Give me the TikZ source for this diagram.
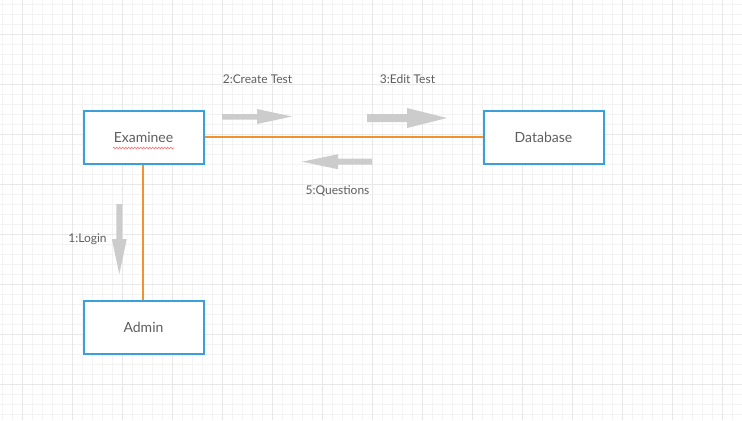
\documentclass[tikz,border=0pt]{standalone}
\usepackage{fontspec}
\setmainfont{Lato}
\usetikzlibrary{decorations.pathmorphing}
\definecolor{boxblue}{HTML}{3AA0DA}
\definecolor{linkorange}{HTML}{F2922E}
\definecolor{arrowgray}{HTML}{CCCCCC}
\definecolor{txtgray}{HTML}{5E5E5E}
\definecolor{gridminor}{HTML}{F3F3F3}
\definecolor{gridmajor}{HTML}{E8E8E8}
\tikzset{
  entity/.style={draw=boxblue, line width=2bp, fill=white, minimum width=120bp,
    minimum height=53bp, inner sep=0pt, text=txtgray, font=\fontsize{14bp}{16bp}\selectfont},
  msglabel/.style={inner sep=0pt, text=txtgray, font=\fontsize{12bp}{14bp}\selectfont},
  link/.style={draw=linkorange, line width=2bp},
  fatarrow/.style={fill=arrowgray, draw=none},
  squiggle/.style={draw=red!55, line width=0.6bp, decorate,
    decoration={zigzag, amplitude=0.9bp, segment length=3bp}}
}
\begin{document}
\begin{tikzpicture}[x=1bp,y=-1bp]
\useasboundingbox (0,0) rectangle (742,420);
\fill[white] (0,0) rectangle (742,420);
% grid
\foreach \i in {0,...,73} \draw[gridminor, line width=0.8bp] (2.7+10*\i,0) -- (2.7+10*\i,420);
\foreach \i in {0,...,41} \draw[gridminor, line width=0.8bp] (0,4+10*\i) -- (742,4+10*\i);
\foreach \i in {0,...,14} \draw[gridmajor, line width=0.8bp] (22.7+50*\i,0) -- (22.7+50*\i,420);
\foreach \i in {0,...,7} \draw[gridmajor, line width=0.8bp] (0,34+50*\i) -- (742,34+50*\i);

% nodes
\node[entity] (exam) at (143.5,137) {Examinee};
\node[entity] (db) at (543.5,137) {Database};
\node[entity] (admin) at (143.5,327) {Admin};

% connectors
\draw[link] (exam.east) -- (db.west);
\draw[link] ([xshift=-1bp]exam.south) -- ([xshift=-1bp]admin.north);

% spell-check squiggle
\draw[squiggle] (113,148) -- (174,148);

% message arrows
\fill[fatarrow] (222,114) -- (257,114) -- (257,109) -- (292,116.5) -- (257,124) -- (257,119.5) -- (222,119.5) -- cycle;
\fill[fatarrow] (367,114) -- (407,114) -- (407,108) -- (447,118) -- (407,128) -- (407,122) -- (367,122) -- cycle;
\fill[fatarrow] (372,158.7) -- (338,158.7) -- (338,154.2) -- (302,161.7) -- (338,169.2) -- (338,164.7) -- (372,164.7) -- cycle;
\fill[fatarrow] (116.3,204) -- (116.3,239) -- (111.8,239) -- (119.3,274) -- (126.8,239) -- (122.3,239) -- (122.3,204) -- cycle;

% labels
\node[msglabel] (l2) at (257.5,79) {2:Create Test};
\node[msglabel] (l3) at (407.5,79) {3:Edit Test};
\node[msglabel] (l5) at (337.5,191) {5:Questions};
\node[msglabel] (l1) at (87.5,239) {1:Login};
\end{tikzpicture}
\end{document}
